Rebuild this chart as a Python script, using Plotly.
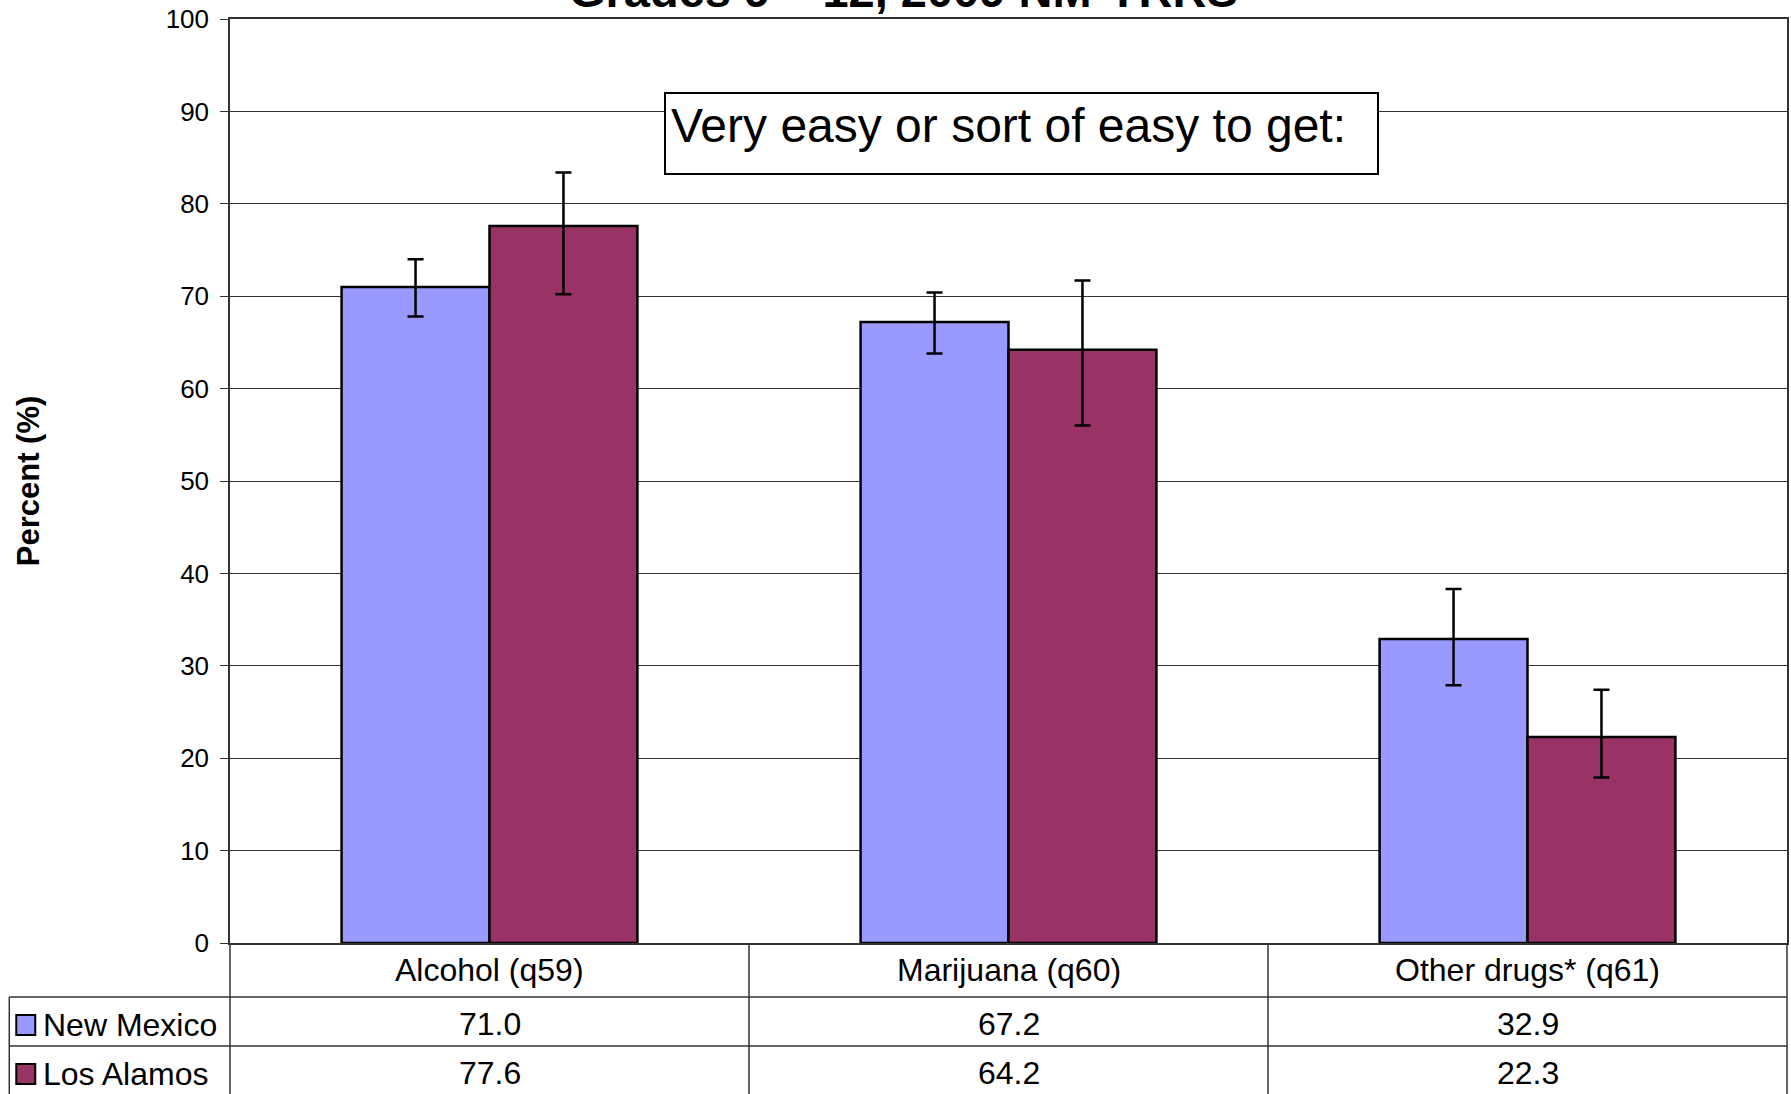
import plotly.graph_objects as go

# data
categories = ["Alcohol (q59)", "Marijuana (q60)", "Other drugs* (q61)"]
series_names = ["New Mexico", "Los Alamos"]
nm_values = [71.0, 67.2, 32.9]
nm_low = [67.8, 63.8, 27.9]
nm_high = [74.0, 70.4, 38.3]
la_values = [77.6, 64.2, 22.3]
la_low = [70.2, 56.0, 17.9]
la_high = [83.4, 71.7, 27.4]
y_ticks = [0, 10, 20, 30, 40, 50, 60, 70, 80, 90, 100]

colors = ["#9999FF", "#993366"]
FONT = "Liberation Sans, Arial, sans-serif"

W, H = 1791, 1094
ML, MR, MT, MB = 230, 2, 19, 151
PW = W - ML - MR
PH = H - MT - MB


def px_to_paper_x(px):
    return (px - ML) / PW


def px_to_paper_y(py):
    return (H - MB - py) / PH


fig = go.Figure()
for name, vals, lo, hi, col in [
    (series_names[0], nm_values, nm_low, nm_high, colors[0]),
    (series_names[1], la_values, la_low, la_high, colors[1]),
]:
    fig.add_trace(go.Bar(
        name=name,
        x=list(range(len(categories))),
        y=vals,
        marker=dict(color=col, line=dict(color="black", width=2.5)),
        error_y=dict(
            type="data",
            symmetric=False,
            array=[h - v for h, v in zip(hi, vals)],
            arrayminus=[v - l for v, l in zip(vals, lo)],
            color="black",
            thickness=2.5,
            width=8,
        ),
    ))

annotations = []
shapes = []

# title (cut off at the top in the reference)
annotations.append(dict(
    text="<b>Grades 9 – 12, 2009 NM-YRRS</b>",
    xref="paper", yref="paper", x=px_to_paper_x(904), y=1,
    xanchor="center", yanchor="bottom", yshift=0, showarrow=False,
    font=dict(family=FONT, size=47, color="black"),
))

# y axis title
annotations.append(dict(
    text="<b>Percent (%)</b>",
    xref="paper", yref="paper", x=px_to_paper_x(28), y=0.5,
    xanchor="center", yanchor="middle", textangle=-90, showarrow=False,
    font=dict(family=FONT, size=31, color="black"),
))

# boxed label
annotations.append(dict(
    text="Very easy or sort of easy to get:",
    xref="paper", yref="paper", x=px_to_paper_x(665), y=px_to_paper_y(92),
    xanchor="left", yanchor="top", showarrow=False,
    width=701, height=69, align="left", valign="top",
    bgcolor="white", bordercolor="black", borderwidth=2, borderpad=5,
    font=dict(family=FONT, size=48, color="black"),
))

# data table below the chart
row_cat = px_to_paper_y(970)
row_nm = px_to_paper_y(1024)
row_la = px_to_paper_y(1073)
for i, cat in enumerate(categories):
    for txt, yrow in [(cat, row_cat), (f"{nm_values[i]:.1f}", row_nm), (f"{la_values[i]:.1f}", row_la)]:
        annotations.append(dict(text=txt, xref="x", yref="paper", x=i, y=yrow,
                                 xanchor="center", yanchor="middle", showarrow=False,
                                 font=dict(family=FONT, size=32, color="black")))

for name, col, ypx in [(series_names[0], colors[0], 1025), (series_names[1], colors[1], 1074)]:
    shapes.append(dict(type="rect", xref="paper", yref="paper",
                       x0=px_to_paper_x(16), x1=px_to_paper_x(35),
                       y0=px_to_paper_y(ypx - 10), y1=px_to_paper_y(ypx + 10),
                       fillcolor=col, line=dict(color="black", width=2)))
    annotations.append(dict(text=name, xref="paper", yref="paper", x=px_to_paper_x(41),
                             y=px_to_paper_y(ypx), xanchor="left", yanchor="middle", showarrow=False,
                             font=dict(family=FONT, size=32, color="black")))

line_style = dict(color="#333333", width=1.5)
ybot = px_to_paper_y(H + 5)
# horizontal rules
for ypx in [997, 1046]:
    shapes.append(dict(type="line", xref="paper", yref="paper", x0=px_to_paper_x(9), x1=1,
                       y0=px_to_paper_y(ypx), y1=px_to_paper_y(ypx), line=line_style))
# vertical rules
for xv in [0.5, 1.5]:
    shapes.append(dict(type="line", xref="x", yref="paper", x0=xv, x1=xv, y0=0, y1=ybot, line=line_style))
shapes.append(dict(type="line", xref="paper", yref="paper", x0=0, x1=0, y0=0, y1=ybot, line=line_style))
shapes.append(dict(type="line", xref="paper", yref="paper", x0=1, x1=1, y0=0, y1=ybot, line=line_style))
shapes.append(dict(type="line", xref="paper", yref="paper", x0=px_to_paper_x(9), x1=px_to_paper_x(9),
                   y0=px_to_paper_y(997), y1=ybot, line=line_style))

fig.update_layout(
    width=W, height=H,
    margin=dict(l=ML, r=MR, t=MT, b=MB),
    paper_bgcolor="white", plot_bgcolor="white",
    barmode="group", bargap=0.43, bargroupgap=0,
    showlegend=False,
    font=dict(family=FONT, color="black"),
    annotations=annotations,
    shapes=shapes,
    xaxis=dict(
        range=[-0.5, 2.5], showticklabels=False, ticks="", showgrid=False,
        showline=True, mirror=True, linecolor="#333333", linewidth=1.5, zeroline=False,
    ),
    yaxis=dict(
        range=[0, 100], tickvals=y_ticks, ticks="outside", ticklen=8, tickcolor="#333333",
        tickfont=dict(family=FONT, size=26, color="black"), ticklabelstandoff=6,
        showgrid=True, gridcolor="#333333", gridwidth=1,
        showline=True, mirror=True, linecolor="#333333", linewidth=1.5, zeroline=False,
    ),
)

# drop the default page margin so the chart sits at the window's corner
fig.write_html("out.html", config={"displayModeBar": False},
               post_script="document.body.style.margin = '0px';")
